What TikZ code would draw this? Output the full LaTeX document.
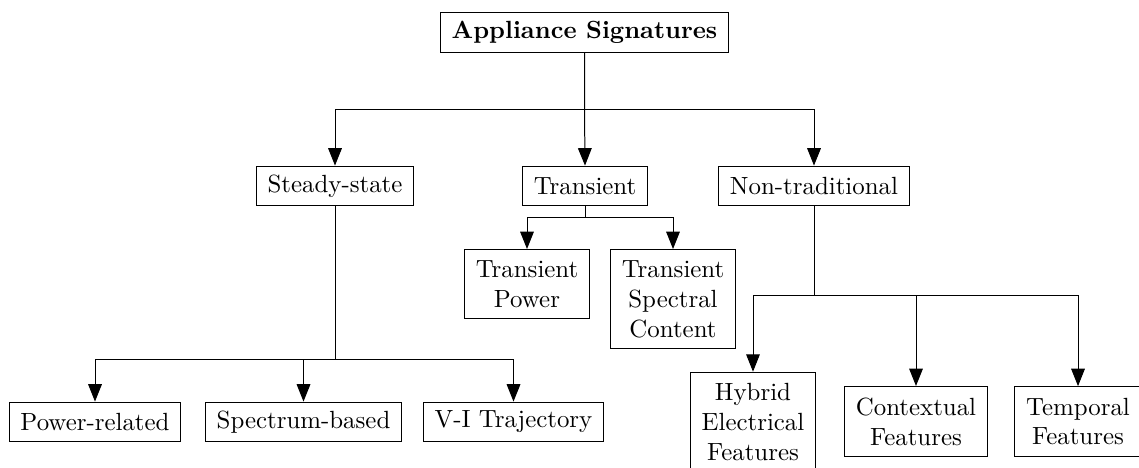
\documentclass[tikz,border=0pt]{standalone}
\usetikzlibrary{arrows.meta}
\begin{document}
\begin{tikzpicture}[x=0.402pt,y=-0.402pt,>={Triangle[length=7pt,width=5.5pt]},
  sigbox/.style={draw,inner xsep=4.5pt,inner ysep=4.5pt,align=center},
  sigone/.style={sigbox,inner ysep=3pt,minimum height=16pt}]
\def\yr{109}\def\ys{359}\def\yt{217}\def\yn{295}
\useasboundingbox (0,0) rectangle (1139,467);
% top and first level
\node[sigone] (root) at (584.5,32.5) {\textbf{Appliance Signatures}};
\node[sigone] (steady) at (335,186) {Steady-state};
\node[sigone] (trans) at (585,186) {Transient};
\node[sigone] (nontrad) at (814,186) {Non-traditional};
\coordinate (rj) at (584.5,\yr);
\draw[->] (root.south) -- (rj) -| (steady.north);
\draw[->] (root.south) -- (rj) -- (trans.north);
\draw[->] (root.south) -- (rj) -| (nontrad.north);
% steady-state branch
\node[sigone] (power) at (95,422) {Power-related};
\node[sigone] (spec) at (303.5,422) {Spectrum-based};
\node[sigone] (vi) at (513.5,422) {V-I Trajectory};
\coordinate (sj) at (335,\ys);
\draw[->] (steady.south) -- (sj) -| (power.north);
\draw[->] (steady.south) -- (sj) -| (spec.north);
\draw[->] (steady.south) -- (sj) -| (vi.north);
% transient branch
\node[sigbox,anchor=north] (tpow) at (527,249) {Transient\\Power};
\node[sigbox,anchor=north] (tspec) at (673,249) {Transient\\Spectral\\Content};
\coordinate (tj) at (585,\yt);
\draw[->] (trans.south) -- (tj) -| (tpow.north);
\draw[->] (trans.south) -- (tj) -| (tspec.north);
% non-traditional branch
\node[sigbox] (hybrid) at (753,422) {Hybrid\\Electrical\\Features};
\node[sigbox] (context) at (916,421.5) {Contextual\\Features};
\node[sigbox] (temporal) at (1078,421.5) {Temporal\\Features};
\coordinate (nj) at (814,\yn);
\draw[->] (nontrad.south) -- (nj) -| (hybrid.north);
\draw[->] (nontrad.south) -- (nj) -| (context.north);
\draw[->] (nontrad.south) -- (nj) -| (temporal.north);
\end{tikzpicture}
\end{document}
